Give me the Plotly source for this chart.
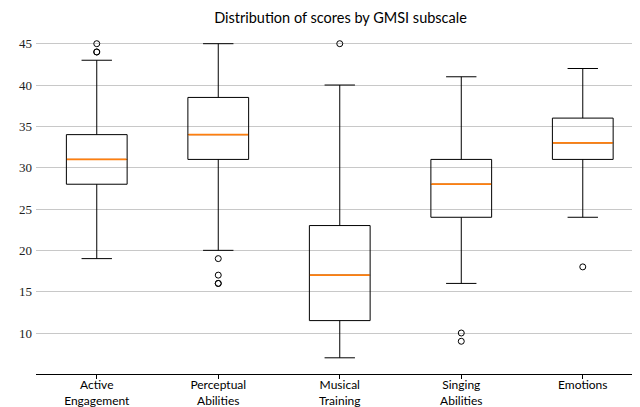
import plotly.graph_objects as go

categories = ["Active<br>Engagement", "Perceptual<br>Abilities", "Musical<br>Training", "Singing<br>Abilities", "Emotions"]
positions = [1, 2, 3, 4, 5]
q1 = [28, 31, 11.5, 24, 31]
median = [31, 34, 17, 28, 33]
q3 = [34, 38.5, 23, 31, 36]
lower_whisker = [19, 20, 7, 16, 24]
upper_whisker = [43, 45, 40, 41, 42]
outliers = [[44, 44, 45], [19, 17, 16, 16], [45], [10, 9], [18]]
y_ticks = [10, 15, 20, 25, 30, 35, 40, 45]

BOX_W = 0.5
fig = go.Figure()
for i, p in enumerate(positions):
    fig.add_trace(go.Box(
        x=[p], q1=[q1[i]], median=[median[i]], q3=[q3[i]],
        lowerfence=[lower_whisker[i]], upperfence=[upper_whisker[i]],
        width=BOX_W, whiskerwidth=0.5, fillcolor="rgba(0,0,0,0)",
        line=dict(color="black", width=1), boxpoints=False,
        showlegend=False, hoverinfo="skip"))
for i, p in enumerate(positions):
    fig.add_trace(go.Scatter(
        x=[p - BOX_W / 2 + 0.004, p + BOX_W / 2 - 0.004], y=[median[i], median[i]],
        mode="lines", line=dict(color="#ff7f0e", width=1.7),
        showlegend=False, hoverinfo="skip"))
    fig.add_trace(go.Scatter(
        x=[p] * len(outliers[i]), y=outliers[i], mode="markers",
        marker=dict(symbol="circle-open", size=6, color="black", line=dict(width=1)),
        showlegend=False, hoverinfo="skip"))

# the page body has an 8px margin, so the figure is offset by (8, 8) in the window
fig.update_layout(
    width=640, height=407,
    margin=dict(l=28, r=8, t=20, b=41, autoexpand=False),
    paper_bgcolor="white", plot_bgcolor="white",
    title=dict(text="Distribution of scores by GMSI subscale", x=0.5195, xanchor="center",
               y=1 - 10 / 407, yref="container", yanchor="middle",
               font=dict(family="Lato", size=14.5, color="black")),
    xaxis=dict(range=[0.5, 5.471], tickvals=positions, ticktext=categories,
               showgrid=False, zeroline=False, showline=True, linecolor="black", linewidth=1,
               ticks="outside", ticklen=3.5, tickcolor="black", tickwidth=1,
               ticklabelstandoff=-4,
               tickfont=dict(family="Lato", size=12, color="black")),
    yaxis=dict(range=[5.04, 46.9], tickvals=y_ticks, showgrid=True, gridcolor="#c8c8c8",
               gridwidth=1, zeroline=False, showline=False,
               ticks="", ticklabelstandoff=3,
               tickfont=dict(family="Liberation Serif", size=13, color="#222")),
)
fig.write_html("out.html")
